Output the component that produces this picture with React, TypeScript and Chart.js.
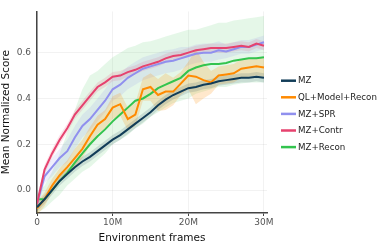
import React, { useEffect, useRef } from "react";
import { Chart, registerables } from "chart.js";

Chart.register(...registerables);

const frames = [0, 1, 2, 3, 4, 5, 6, 7, 8, 9, 10, 11, 12, 13, 14, 15, 16, 17, 18, 19, 20, 21, 22, 23, 24, 25, 26, 27, 28, 29, 30];
const xTicks = [0, 10, 20, 30];
const yTicks = [0, 0.2, 0.4, 0.6];

const seriesNames = ["MZ", "QL+Model+Recon", "MZ+SPR", "MZ+Contr", "MZ+Recon"];
const seriesColors = ["#123d58", "#ff8a00", "#9090ee", "#e6426e", "#33c44e"];

const mz = [-0.075, -0.04, 0.0, 0.04, 0.07, 0.1, 0.125, 0.145, 0.17, 0.195, 0.22, 0.24, 0.265, 0.29, 0.315, 0.34, 0.37, 0.395, 0.415, 0.43, 0.445, 0.45, 0.46, 0.465, 0.475, 0.48, 0.485, 0.49, 0.49, 0.495, 0.49];
const ql = [-0.08, -0.04, 0.02, 0.065, 0.1, 0.14, 0.18, 0.235, 0.285, 0.31, 0.36, 0.375, 0.31, 0.33, 0.44, 0.45, 0.415, 0.43, 0.43, 0.465, 0.5, 0.495, 0.48, 0.47, 0.5, 0.505, 0.51, 0.53, 0.535, 0.54, 0.535];
const spr = [-0.06, 0.06, 0.1, 0.14, 0.17, 0.23, 0.28, 0.31, 0.35, 0.39, 0.44, 0.46, 0.49, 0.51, 0.53, 0.54, 0.55, 0.56, 0.565, 0.575, 0.585, 0.595, 0.6, 0.6, 0.61, 0.605, 0.615, 0.625, 0.625, 0.635, 0.645];
const contr = [-0.06, 0.09, 0.16, 0.22, 0.27, 0.33, 0.37, 0.41, 0.45, 0.47, 0.495, 0.5, 0.515, 0.525, 0.54, 0.55, 0.56, 0.575, 0.585, 0.59, 0.6, 0.61, 0.615, 0.62, 0.62, 0.62, 0.625, 0.63, 0.625, 0.64, 0.63];
const recon = [-0.04, -0.04, 0.0, 0.04, 0.075, 0.12, 0.16, 0.2, 0.235, 0.265, 0.3, 0.33, 0.36, 0.39, 0.4, 0.42, 0.445, 0.46, 0.475, 0.49, 0.52, 0.535, 0.545, 0.55, 0.55, 0.555, 0.565, 0.57, 0.575, 0.575, 0.58];

const reconHigh = [-0.02, 0.02, 0.08, 0.16, 0.25, 0.35, 0.44, 0.5, 0.52, 0.55, 0.58, 0.6, 0.62, 0.63, 0.645, 0.65, 0.66, 0.67, 0.68, 0.69, 0.7, 0.7, 0.71, 0.72, 0.73, 0.73, 0.74, 0.745, 0.75, 0.755, 0.76];
const reconLow = [-0.1, -0.08, -0.05, -0.02, 0.02, 0.05, 0.08, 0.1, 0.13, 0.16, 0.2, 0.22, 0.24, 0.27, 0.29, 0.32, 0.34, 0.36, 0.38, 0.39, 0.4, 0.42, 0.43, 0.44, 0.45, 0.45, 0.46, 0.465, 0.47, 0.47, 0.47];

const mzSpread = [0.02, 0.02, 0.02, 0.02, 0.02, 0.02, 0.02, 0.02, 0.02, 0.02, 0.02, 0.02, 0.02, 0.02, 0.02, 0.02, 0.02, 0.02, 0.02, 0.02, 0.02, 0.02, 0.02, 0.02, 0.02, 0.02, 0.02, 0.02, 0.02, 0.02, 0.02];
const qlSpread = [0.03, 0.03, 0.03, 0.03, 0.03, 0.04, 0.04, 0.04, 0.04, 0.04, 0.05, 0.05, 0.05, 0.05, 0.05, 0.06, 0.07, 0.08, 0.06, 0.05, 0.06, 0.12, 0.08, 0.05, 0.04, 0.04, 0.04, 0.04, 0.04, 0.04, 0.04];
const sprSpread = [0.03, 0.03, 0.04, 0.04, 0.05, 0.05, 0.05, 0.05, 0.05, 0.05, 0.05, 0.05, 0.05, 0.05, 0.05, 0.05, 0.05, 0.05, 0.05, 0.05, 0.04, 0.04, 0.04, 0.04, 0.04, 0.03, 0.03, 0.03, 0.03, 0.03, 0.03];
const contrSpread = [0.02, 0.02, 0.02, 0.02, 0.02, 0.02, 0.02, 0.02, 0.02, 0.02, 0.02, 0.02, 0.02, 0.02, 0.02, 0.02, 0.02, 0.02, 0.02, 0.02, 0.02, 0.02, 0.02, 0.02, 0.02, 0.02, 0.02, 0.02, 0.02, 0.02, 0.02];

const FONT = "'DejaVu Sans', sans-serif";

function pts(ys: number[]) {
  return ys.map((y, i) => ({ x: frames[i], y }));
}

function rgba(hex: string, a: number) {
  const r = parseInt(hex.slice(1, 3), 16);
  const g = parseInt(hex.slice(3, 5), 16);
  const b = parseInt(hex.slice(5, 7), 16);
  return `rgba(${r},${g},${b},${a})`;
}

const legendPlugin = {
  id: "customLegend",
  afterDraw(chart: any) {
    const ctx = chart.ctx;
    ctx.save();
    seriesNames.forEach((name, i) => {
      const y = 80.7 + i * 16.6;
      ctx.strokeStyle = seriesColors[i];
      ctx.lineWidth = 2.5;
      ctx.beginPath();
      ctx.moveTo(281, y);
      ctx.lineTo(296, y);
      ctx.stroke();
      ctx.fillStyle = "#222";
      ctx.font = `8.7px ${FONT}`;
      ctx.textBaseline = "middle";
      ctx.textAlign = "left";
      ctx.fillText(name, 298, y + 0.5);
    });
    ctx.restore();
  },
};

export default function App() {
  const ref = useRef<HTMLCanvasElement | null>(null);
  useEffect(() => {
    document.body.style.margin = "0";
    if (!ref.current) return;
    const means = [mz, ql, spr, contr, recon];
    const spreads = [mzSpread, qlSpread, sprSpread, contrSpread];
    const bandAlpha = [0.14, 0.2, 0.15, 0.15];
    const datasets: any[] = [];
    const lineOrder = [0, 1, 3, 2, 4];
    means.forEach((m, i) => {
      datasets.push({
        label: seriesNames[i],
        data: pts(m),
        borderColor: seriesColors[i],
        backgroundColor: seriesColors[i],
        borderWidth: 2,
        pointRadius: 0,
        fill: false,
        tension: 0,
        order: lineOrder[i],
      });
    });
    spreads.forEach((s, i) => {
      const m = means[i];
      datasets.push({
        label: seriesNames[i] + " hi",
        data: pts(m.map((v, k) => v + s[k])),
        borderWidth: 0,
        borderColor: "transparent",
        pointRadius: 0,
        backgroundColor: rgba(seriesColors[i], bandAlpha[i]),
        fill: "+1",
        order: 20 + i,
      });
      datasets.push({
        label: seriesNames[i] + " lo",
        data: pts(m.map((v, k) => v - s[k])),
        borderWidth: 0,
        borderColor: "transparent",
        pointRadius: 0,
        fill: false,
        order: 20 + i,
      });
    });
    datasets.push({
      label: "recon hi",
      data: pts(reconHigh),
      borderWidth: 0,
      borderColor: "transparent",
      pointRadius: 0,
      backgroundColor: rgba(seriesColors[4], 0.13),
      fill: "+1",
      order: 30,
    });
    datasets.push({
      label: "recon lo",
      data: pts(reconLow),
      borderWidth: 0,
      borderColor: "transparent",
      pointRadius: 0,
      fill: false,
      order: 30,
    });

    const chart = new Chart(ref.current, {
      type: "line",
      data: { datasets },
      plugins: [legendPlugin],
      options: {
        animation: false,
        responsive: false,
        maintainAspectRatio: false,
        layout: { padding: { top: 4, right: 121, left: 0, bottom: 0 } },
        plugins: { legend: { display: false }, tooltip: { enabled: false } },
        scales: {
          x: {
            type: "linear",
            min: 0,
            max: 30.4,
            afterBuildTicks: (s: any) => {
              s.ticks = xTicks.map((v) => ({ value: v }));
            },
            afterFit: (s: any) => {
              s.height = 32;
            },
            ticks: {
              color: "#555",
              font: { family: FONT, size: 9 },
              padding: 1,
              maxRotation: 0,
              callback: (v: any) => (v === 0 ? "0" : `${v}M`),
            },
            grid: {
              color: "rgba(0,0,0,0.05)",
              tickColor: "#444",
              tickLength: 3,
            },
            border: { color: "#444", width: 1.5 },
            title: {
              display: true,
              text: "Environment frames",
              color: "#111",
              font: { family: FONT, size: 10.5 },
              padding: { top: 1, bottom: 0 },
            },
          },
          y: {
            type: "linear",
            min: -0.1,
            max: 0.78,
            afterBuildTicks: (s: any) => {
              s.ticks = yTicks.map((v) => ({ value: v }));
            },
            afterFit: (s: any) => {
              s.width = 37;
            },
            ticks: {
              color: "#555",
              font: { family: FONT, size: 9 },
              padding: 6,
              callback: (v: any) => Number(v).toFixed(1),
            },
            grid: {
              color: "rgba(0,0,0,0.05)",
              drawTicks: false,
            },
            border: { color: "#444", width: 1.5 },
            title: {
              display: true,
              text: "Mean Normalized Score",
              color: "#111",
              font: { family: FONT, size: 10.5 },
              padding: { top: 0, bottom: 2 },
            },
          },
        },
      },
    });
    return () => chart.destroy();
  }, []);
  return (
    <div style={{ width: 388, height: 245 }}>
      <canvas ref={ref} width={388} height={245} style={{ width: 388, height: 245 }} />
    </div>
  );
}
